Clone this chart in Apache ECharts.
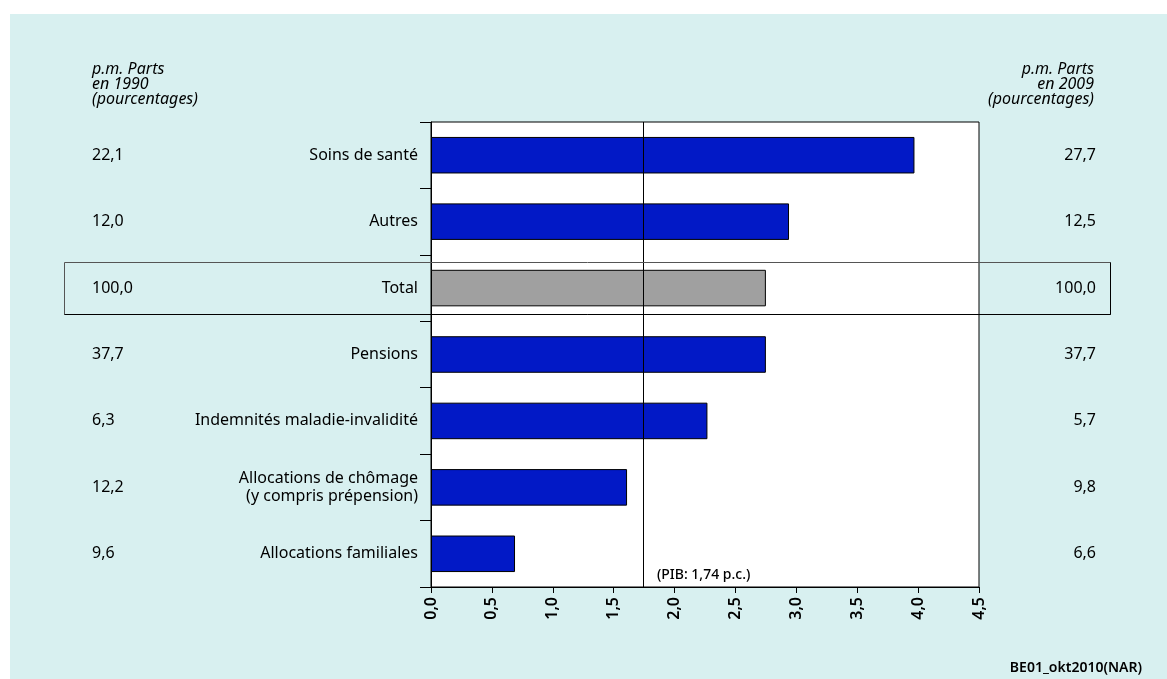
<!DOCTYPE html>
<html>
<head>
<meta charset="utf-8">
<script src="https://cdn.jsdelivr.net/npm/echarts@6/dist/echarts.min.js"></script>
<style>
  html, body { margin: 0; padding: 0; background: #fff; }
  #panel { position: absolute; left: 10px; top: 14px; width: 1157px; height: 665px; background: #d8f0f0; }
  #chart { position: absolute; left: 0; top: 0; width: 1167px; height: 679px; }
</style>
</head>
<body>
<div id="panel"></div>
<div id="chart"></div>
<script>
// growth of social expenditure, by category (p.c.)
const categories = [
  'Soins de santé',
  'Autres',
  'Total',
  'Pensions',
  'Indemnités maladie-invalidité',
  'Allocations de chômage\n(y compris prépension)',
  'Allocations familiales'
];
const growth = [3.97, 2.94, 2.75, 2.75, 2.27, 1.61, 0.69];
const share1990 = ['22,1', '12,0', '100,0', '37,7', '6,3', '12,2', '9,6'];
const share2009 = ['27,7', '12,5', '100,0', '37,7', '5,7', '9,8', '6,6'];
const pib = 1.74;
const pibLabel = '(PIB: 1,74 p.c.)';
const header1990 = 'p.m. Parts\nen 1990\n(pourcentages)';
const header2009 = 'p.m. Parts\nen 2009\n(pourcentages)';
const source = 'BE01_okt2010(NAR)';

const FONT = '"Noto Sans", sans-serif';
const chart = echarts.init(document.getElementById('chart'));

const barData = growth.map((v, i) =>
  categories[i] === 'Total' ? { value: v, itemStyle: { color: '#a0a0a0' } } : v
);

const option = {
  backgroundColor: 'transparent',
  textStyle: { fontFamily: FONT, color: '#000' },
  grid: {
    left: 431, right: 188, top: 122, bottom: 92,
    show: true, backgroundColor: '#fff', borderColor: '#000', borderWidth: 1
  },
  xAxis: {
    type: 'value',
    min: 0, max: 4.5, interval: 0.5,
    splitLine: { show: false },
    axisLine: { show: true, lineStyle: { color: '#000' } },
    axisTick: { show: true, length: 6, lineStyle: { color: '#000' } },
    axisLabel: {
      rotate: 90, fontSize: 16, fontWeight: 600, color: '#000', margin: 10,
      formatter: v => v.toFixed(1).replace('.', ',')
    }
  },
  yAxis: [
    {
      type: 'category', data: categories, inverse: true,
      axisLine: { show: true, lineStyle: { color: '#000' } },
      axisTick: { show: true, length: 11, lineStyle: { color: '#000' } },
      axisLabel: { fontSize: 16, color: '#000', margin: 13, lineHeight: 18 }
    },
    {
      type: 'category', data: share1990, inverse: true,
      position: 'left', offset: 339,
      axisLine: { show: false }, axisTick: { show: false },
      axisLabel: { fontSize: 16, color: '#000', align: 'left', margin: 0, padding: [4, 0, 0, 0] }
    },
    {
      type: 'category', data: share2009, inverse: true,
      position: 'right', offset: 117,
      axisLine: { show: false }, axisTick: { show: false },
      axisLabel: { fontSize: 16, color: '#000', align: 'right', margin: 0, padding: [4, 0, 0, 0] }
    }
  ],
  series: [
    {
      type: 'bar',
      yAxisIndex: 0,
      data: barData,
      barWidth: '55%',
      itemStyle: { color: '#0219c6', borderColor: '#000', borderWidth: 1 },
      markLine: {
        silent: true,
        symbol: 'none',
        label: { show: false },
        lineStyle: { color: '#000', width: 1, type: 'solid' },
        data: [{ xAxis: pib }]
      }
    }
  ]
};

chart.setOption(option);

// overlay: total box, PIB label, headers, source
const yTotal = chart.convertToPixel({ yAxisIndex: 0 }, 'Total');
const xPib = chart.convertToPixel({ xAxisIndex: 0 }, pib);
const yLast = chart.convertToPixel({ yAxisIndex: 0 }, categories[categories.length - 1]);

chart.setOption({
  graphic: [
    {
      type: 'rect', z: 100,
      shape: { x: 64.5, y: Math.round(yTotal) - 25.5, width: 1046, height: 52 },
      style: { fill: 'none', stroke: '#555', lineWidth: 1 }
    },
    {
      type: 'polyline', z: 101,
      shape: { points: [[64.5, Math.round(yTotal) + 26.5], [1110.5, Math.round(yTotal) + 26.5], [1110.5, Math.round(yTotal) - 25.5]] },
      style: { fill: 'none', stroke: '#000', lineWidth: 1 }
    },
    {
      type: 'text', z: 100, x: xPib + 14, y: yLast + 21,
      style: { text: pibLabel, font: '500 14px ' + FONT, fill: '#000', verticalAlign: 'middle' }
    },
    {
      type: 'text', z: 100, x: 92, y: 62,
      style: { text: header1990, font: 'italic 16px ' + FONT, lineHeight: 15, fill: '#000' }
    },
    {
      type: 'text', z: 100, x: 1094, y: 62,
      style: { text: header2009, font: 'italic 16px ' + FONT, lineHeight: 15, fill: '#000', align: 'right' }
    },
    {
      type: 'text', z: 100, x: 1142, y: 668,
      style: { text: source, font: '600 14px ' + FONT, fill: '#000', align: 'right', verticalAlign: 'middle' }
    }
  ]
});
</script>
</body>
</html>
